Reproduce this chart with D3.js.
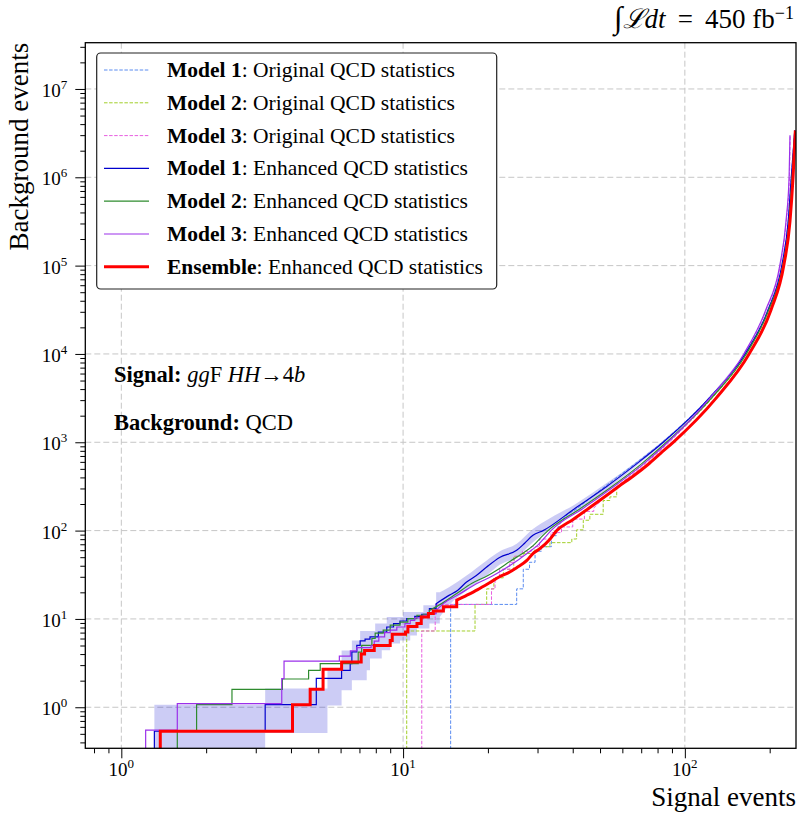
<!DOCTYPE html>
<html>
<head>
<meta charset="utf-8">
<script src="https://cdn.jsdelivr.net/npm/d3@7"></script>
<title>Signal vs background events</title>
<style>
  body { margin: 0; background: #fff; }
  text { font-family: "Liberation Serif", "DejaVu Serif", serif; fill: #000; }
</style>
</head>
<body>
<div id="chart"></div>
<script>
// axis limits (signal events on x, background events on y, both log)
var xLimits = [0.745, 248];
var yLimits = [0.343, 3.34e7];
var xMajor = [1, 10, 100];
var yMajor = [1, 10, 100, 1e3, 1e4, 1e5, 1e6, 1e7];

// each step [S, B]: at signal S the background jumps to B; tails are drawn as smooth curves
var ensembleSteps = [[1.375, 0.535], [4.05, 1.07], [4.68, 1.6], [5.2, 2.7], [6.05, 3.25], [7.1, 4.0], [7.3, 4.4],
  [7.9, 5.0], [9.0, 5.7], [9.15, 6.7], [10.2, 7.1], [10.4, 8.2], [11.2, 8.9], [11.6, 10.5], [12.3, 11.5],
  [12.8, 12.3], [13.9, 13.7], [15.5, 16.3]];
var ensembleTail = [[16.8, 18.5], [18.4, 21.5], [20.2, 25.5], [22.0, 30], [23.5, 33], [25.3, 38], [27.5, 46],
  [28.9, 55], [30.5, 62], [33.2, 80], [35.1, 100], [40, 133], [45.5, 178], [51.8, 240], [58.2, 316],
  [66, 420], [74, 560], [82, 750], [90.9, 1000], [129.1, 3162], [169, 1e4], [202.3, 31620], [224.4, 1e5],
  [236.1, 3.16e5], [242.1, 1e6], [246.7, 3.4e6]];

var model1EnhSteps = [[1.31, 0.535], [3.24, 1.07], [4.92, 2.12], [6.05, 2.62], [6.49, 3.12], [6.58, 4.23],
  [6.85, 5.03], [7.04, 5.63], [7.33, 5.9], [7.63, 6.25], [8.17, 7.1], [8.75, 8.1], [9.25, 8.85], [9.75, 9.47],
  [10.3, 10.1], [11.0, 10.7], [11.65, 11.3], [12.4, 13.1], [13.1, 14.9]];
var model1EnhTail = [[14.6, 18.6], [15.6, 21], [16.8, 26.2], [18.2, 31], [19.8, 38.7], [22.0, 49.6],
  [25.3, 59.9], [27.0, 72], [28.9, 88.4], [31.4, 100], [40.7, 178], [52.8, 316], [67, 562], [83.8, 1000],
  [122, 3162], [163.6, 1e4], [197.4, 31620], [220.8, 1e5], [232.6, 3.16e5], [238.6, 1e6], [245.5, 3.4e6]];

var model2EnhSteps = [[1.58, 0.535], [1.85, 1.07], [2.47, 1.59], [3.73, 2.09], [4.62, 2.62], [5.08, 3.12],
  [6.93, 4.2], [7.13, 5.03], [7.75, 6.0], [7.96, 6.9], [8.5, 7.45], [9.0, 8.5], [9.75, 9.2], [10.4, 10.1],
  [11.2, 11.0], [11.8, 11.3], [12.4, 12.5]];
var model2EnhTail = [[13.7, 14.9], [15.5, 19.4], [17.5, 25.2], [20.0, 31], [21.5, 35.6], [24, 45], [26.5, 55],
  [29, 68], [31, 85], [32.7, 100], [42.6, 178], [55.1, 316], [69.8, 562], [86, 1000], [124.2, 3162],
  [165.2, 1e4], [198.6, 31620], [222.6, 1e5], [234.6, 3.16e5], [240.2, 1e6], [246.1, 3.3e6]];

var model3EnhSteps = [[1.22, 0.55], [1.58, 1.1], [3.71, 2.11], [3.78, 3.32], [5.94, 3.8], [6.5, 4.35],
  [6.85, 4.73], [7.7, 5.0], [7.9, 5.6], [8.2, 6.25], [8.6, 7.0], [9.0, 7.45], [9.5, 8.1], [10.15, 8.85],
  [10.6, 9.6], [11.0, 10.3], [11.8, 11.0], [12.4, 11.5], [13.1, 12.5]];
var model3EnhTail = [[13.9, 14.9], [15.8, 19], [18.2, 25], [20.5, 30], [22.5, 35.6], [25, 44], [27.5, 55],
  [30, 68], [32, 85], [33.5, 100], [43.5, 178], [56, 316], [71, 562], [87, 1000], [122.7, 3162],
  [161.9, 1e4], [193.8, 31620], [217.2, 1e5], [228.5, 3.16e5], [234.4, 1e6], [236.1, 3.0e6]];

var model1OrigSteps = [[14.75, 14.6], [25.3, 21.9], [26.7, 36.5], [28.1, 43.8], [29.4, 58.4], [31.0, 65.7],
  [33.6, 87.6], [35.0, 102]];
var model1OrigTail = [[37, 135], [41.5, 178], [52, 316], [66, 562], [83, 1000], [121.5, 3162], [163.6, 1e4],
  [197.4, 31620], [220.8, 1e5], [232.6, 3.16e5], [238.6, 1e6], [245.5, 3.4e6]];

var model2OrigSteps = [[10.3, 7.3], [18.0, 14.6], [19.8, 21.9], [21.0, 29.2], [22.7, 36.5], [24.7, 51.1],
  [26.7, 55], [29.0, 60], [30.5, 65.7], [33.2, 73], [39.7, 80.3], [41.3, 102], [43.6, 131], [46.0, 153],
  [51.3, 219], [54.2, 241], [57.3, 340]];
var model2OrigTail = [[66, 470], [71, 562], [87, 1000], [125, 3162], [165.2, 1e4], [198.6, 31620],
  [222.6, 1e5], [234.6, 3.16e5], [240.2, 1e6], [246.1, 3.2e6]];

var model3OrigSteps = [[11.65, 7.3], [13.0, 14.6], [20.6, 21.9], [21.2, 29.2], [22.0, 36.5], [23.9, 43.8],
  [24.8, 51.1], [26.5, 58.4], [28.5, 65.7], [30.5, 80.3], [33.5, 94.9], [36.5, 110], [40, 135], [44, 165],
  [47.5, 180]];
var model3OrigTail = [[52, 240], [57.5, 316], [72, 562], [88, 1000], [123.5, 3162], [162.5, 1e4],
  [194.5, 31620], [218, 1e5], [229, 3.16e5], [235, 1e6], [236.5, 2.9e6]];

// uncertainty band of Model 1 enhanced: [S, low, high]
var bandSteps = [[1.31, 0, 1.07], [3.24, 0.51, 1.63], [5.39, 1.05, 2.62], [6.05, 1.56, 4.4], [6.58, 2.02, 5.7],
  [7.04, 2.02, 7.3], [7.43, 2.62, 7.3], [7.63, 3.56, 7.3], [7.96, 3.56, 8.85], [8.4, 4.42, 8.85],
  [8.75, 4.42, 10.5], [9.0, 5.27, 10.5], [9.75, 5.7, 10.5], [10.0, 5.7, 12], [10.6, 6.5, 12],
  [11.2, 7.8, 12], [11.8, 7.8, 14.3], [12.4, 8.85, 14.3], [13.1, 8.85, 20], [13.5, 10.5, 20]];
var bandTail = [[14.6, 14.5, 23], [16.8, 21, 31], [19.8, 31, 46], [22, 41, 58], [25.3, 50, 71],
  [28.9, 74, 104], [33.2, 103, 138], [40.7, 160, 198], [52.8, 290, 345], [67, 530, 595],
  [83.8, 960, 1045], [122, 3080, 3250], [163.6, 9850, 10150]];

var legendBold = ["Model 1", "Model 2", "Model 3", "Model 1", "Model 2", "Model 3", "Ensemble"];
var legendRest = [": Original QCD statistics", ": Original QCD statistics", ": Original QCD statistics",
  ": Enhanced QCD statistics", ": Enhanced QCD statistics", ": Enhanced QCD statistics",
  ": Enhanced QCD statistics"];

var series = [
  {steps: model1OrigSteps, tail: model1OrigTail, color: "#5b8cf0", width: 1, dash: "3.5,1.6"},
  {steps: model2OrigSteps, tail: model2OrigTail, color: "#a2cf2a", width: 1, dash: "3.5,1.6"},
  {steps: model3OrigSteps, tail: model3OrigTail, color: "#e85ee0", width: 1, dash: "3.5,1.6"},
  {steps: model1EnhSteps, tail: model1EnhTail, color: "#0000cd", width: 1.2, dash: null},
  {steps: model2EnhSteps, tail: model2EnhTail, color: "#2e8b2e", width: 1.2, dash: null},
  {steps: model3EnhSteps, tail: model3EnhTail, color: "#9b30ea", width: 1.2, dash: null},
  {steps: ensembleSteps, tail: ensembleTail, color: "#ff0000", width: 3, dash: null}
];

var width = 798, height = 814;
var margin = {top: 42.7, right: 2, bottom: 65.7, left: 85.3};
var plotW = width - margin.left - margin.right,
    plotH = height - margin.top - margin.bottom;

var svg = d3.select("#chart").append("svg")
    .attr("width", width)
    .attr("height", height);
var g = svg.append("g")
    .attr("transform", "translate(" + margin.left + "," + margin.top + ")");

var x = d3.scaleLog().domain(xLimits).range([0, plotW]);
var y = d3.scaleLog().domain(yLimits).range([plotH, 0]);

// minor ticks 2..9 of every decade
var xMinor = [], yMinor = [];
[0.1, 1, 10, 100].forEach(function (p) {
    for (var k = 2; k < 10; k++) xMinor.push(k * p);
});
for (var p = 0.1; p < 1e8; p *= 10) {
    for (var k = 2; k < 10; k++) yMinor.push(k * p);
}
xMinor = xMinor.filter(function (v) { return v >= xLimits[0] && v <= xLimits[1]; });
yMinor = yMinor.filter(function (v) { return v >= yLimits[0] && v <= yLimits[1]; });

// grid
var grid = g.append("g").attr("stroke", "#c6c6c6").attr("stroke-dasharray", "6,3").attr("stroke-width", 1);
grid.selectAll(".gx").data(xMajor).join("line")
    .attr("x1", function (d) { return x(d); }).attr("x2", function (d) { return x(d); })
    .attr("y1", 0).attr("y2", plotH);
grid.selectAll(".gy").data(yMajor).join("line")
    .attr("y1", function (d) { return y(d); }).attr("y2", function (d) { return y(d); })
    .attr("x1", 0).attr("x2", plotW);

g.append("clipPath").attr("id", "clip")
    .append("rect").attr("width", plotW).attr("height", plotH);
var plot = g.append("g").attr("clip-path", "url(#clip)");

var yFloor = yLimits[0] / 2;

// corner points of a step function (horizontal, then vertical)
function cornerPoints(steps, start) {
    var pts = start ? [start] : [];
    steps.forEach(function (d, i) {
        if (i > 0) pts.push([d[0]].concat(steps[i - 1].slice(1)));
        pts.push(d);
    });
    return pts;
}

var bandStep = d3.area()
    .x(function (d) { return x(d[0]); })
    .y0(function (d) { return y(Math.max(d[1], yFloor)); })
    .y1(function (d) { return y(d[2]); });
var bandSmooth = d3.area()
    .curve(d3.curveMonotoneX)
    .x(function (d) { return x(d[0]); })
    .y0(function (d) { return y(d[1]); })
    .y1(function (d) { return y(d[2]); });

var band = plot.append("g").attr("fill", "#0000cd").attr("fill-opacity", 0.2);
band.append("path").attr("d", bandStep(cornerPoints(bandSteps)));
band.append("path").attr("d", bandSmooth([bandSteps[bandSteps.length - 1]].concat(bandTail)));

var stepLine = d3.line()
    .x(function (d) { return x(d[0]); })
    .y(function (d) { return y(Math.max(d[1], yFloor)); });
var smoothLine = d3.line()
    .curve(d3.curveMonotoneX)
    .x(function (d) { return x(d[0]); })
    .y(function (d) { return y(d[1]); });

series.forEach(function (s) {
    var last = s.steps[s.steps.length - 1];
    var d = stepLine(cornerPoints(s.steps, [s.steps[0][0], yFloor])) +
        smoothLine([last].concat(s.tail)).replace(/^M[^LC]*/, "");
    plot.append("path")
        .attr("d", d)
        .attr("fill", "none")
        .attr("stroke", s.color)
        .attr("stroke-width", s.width)
        .attr("stroke-dasharray", s.dash)
        .attr("stroke-linejoin", "miter");
});

// axes (ticks only, frame drawn separately)
function noLabel() { return ""; }
function tidy(sel) {
    sel.select(".domain").remove();
    sel.selectAll(".tick line").attr("stroke", "#000").attr("stroke-width", 1);
}
g.append("g").attr("transform", "translate(0," + plotH + ")")
    .call(d3.axisBottom(x).tickValues(xMajor).tickSize(10).tickFormat(noLabel)).call(tidy);
g.append("g").attr("transform", "translate(0," + plotH + ")")
    .call(d3.axisBottom(x).tickValues(xMinor).tickSize(5).tickFormat(noLabel)).call(tidy);
g.append("g")
    .call(d3.axisLeft(y).tickValues(yMajor).tickSize(10).tickFormat(noLabel)).call(tidy);
g.append("g")
    .call(d3.axisLeft(y).tickValues(yMinor).tickSize(5).tickFormat(noLabel)).call(tidy);

g.append("rect")
    .attr("width", plotW).attr("height", plotH)
    .attr("fill", "none").attr("stroke", "#000").attr("stroke-width", 1.3);

// tick labels as 10^k
function powerLabel(sel, v) {
    sel.append("tspan").text("10");
    sel.append("tspan").attr("dy", -8).attr("font-size", 13).text(Math.round(Math.log10(v)));
}
xMajor.forEach(function (v) {
    g.append("text")
        .attr("x", x(v)).attr("y", plotH + 28)
        .attr("text-anchor", "middle").attr("font-size", 19)
        .call(powerLabel, v);
});
yMajor.forEach(function (v) {
    g.append("text")
        .attr("x", -18).attr("y", y(v) + 8)
        .attr("text-anchor", "end").attr("font-size", 19)
        .call(powerLabel, v);
});

// axis titles
svg.append("text")
    .attr("x", 796).attr("y", 806)
    .attr("text-anchor", "end").attr("font-size", 27)
    .text("Signal events");
svg.append("text")
    .attr("transform", "translate(28," + margin.top + ") rotate(-90)")
    .attr("text-anchor", "end").attr("font-size", 27)
    .text("Background events");

// luminosity
var lumi = svg.append("text")
    .attr("x", 794).attr("y", 28)
    .attr("text-anchor", "end").attr("font-size", 27);
lumi.append("tspan").attr("font-size", 31).text("\u222B");
lumi.append("tspan").attr("font-style", "italic").text("\u2112dt");
lumi.append("tspan").text(" \u2009=\u2009 450 fb");
lumi.append("tspan").attr("dy", -9).attr("font-size", 18).text("\u22121");

// annotations
var sig = svg.append("text").attr("x", 114).attr("y", 382).attr("font-size", 22.5);
sig.append("tspan").attr("font-weight", "bold").text("Signal:");
sig.append("tspan").text(" ");
sig.append("tspan").attr("font-style", "italic").text("gg");
sig.append("tspan").text("F ");
sig.append("tspan").attr("font-style", "italic").text("HH");
sig.append("tspan").text("\u2192" + "4");
sig.append("tspan").attr("font-style", "italic").text("b");

var bkg = svg.append("text").attr("x", 114).attr("y", 430).attr("font-size", 22.5);
bkg.append("tspan").attr("font-weight", "bold").text("Background:");
bkg.append("tspan").text(" QCD");

// legend
var legend = svg.append("g");
legend.append("rect")
    .attr("x", 96.7).attr("y", 53).attr("width", 400).attr("height", 236)
    .attr("rx", 4).attr("fill", "#fff").attr("stroke", "#222").attr("stroke-width", 1.2);
series.forEach(function (s, i) {
    var cy = 70 + i * 32.8;
    legend.append("line")
        .attr("x1", 104).attr("x2", 149).attr("y1", cy).attr("y2", cy)
        .attr("stroke", s.color).attr("stroke-width", s.width)
        .attr("stroke-dasharray", s.dash);
    var t = legend.append("text")
        .attr("x", 167).attr("y", cy + 7).attr("font-size", 21.5);
    t.append("tspan").attr("font-weight", "bold").text(legendBold[i]);
    t.append("tspan").text(legendRest[i]);
});
</script>
</body>
</html>
